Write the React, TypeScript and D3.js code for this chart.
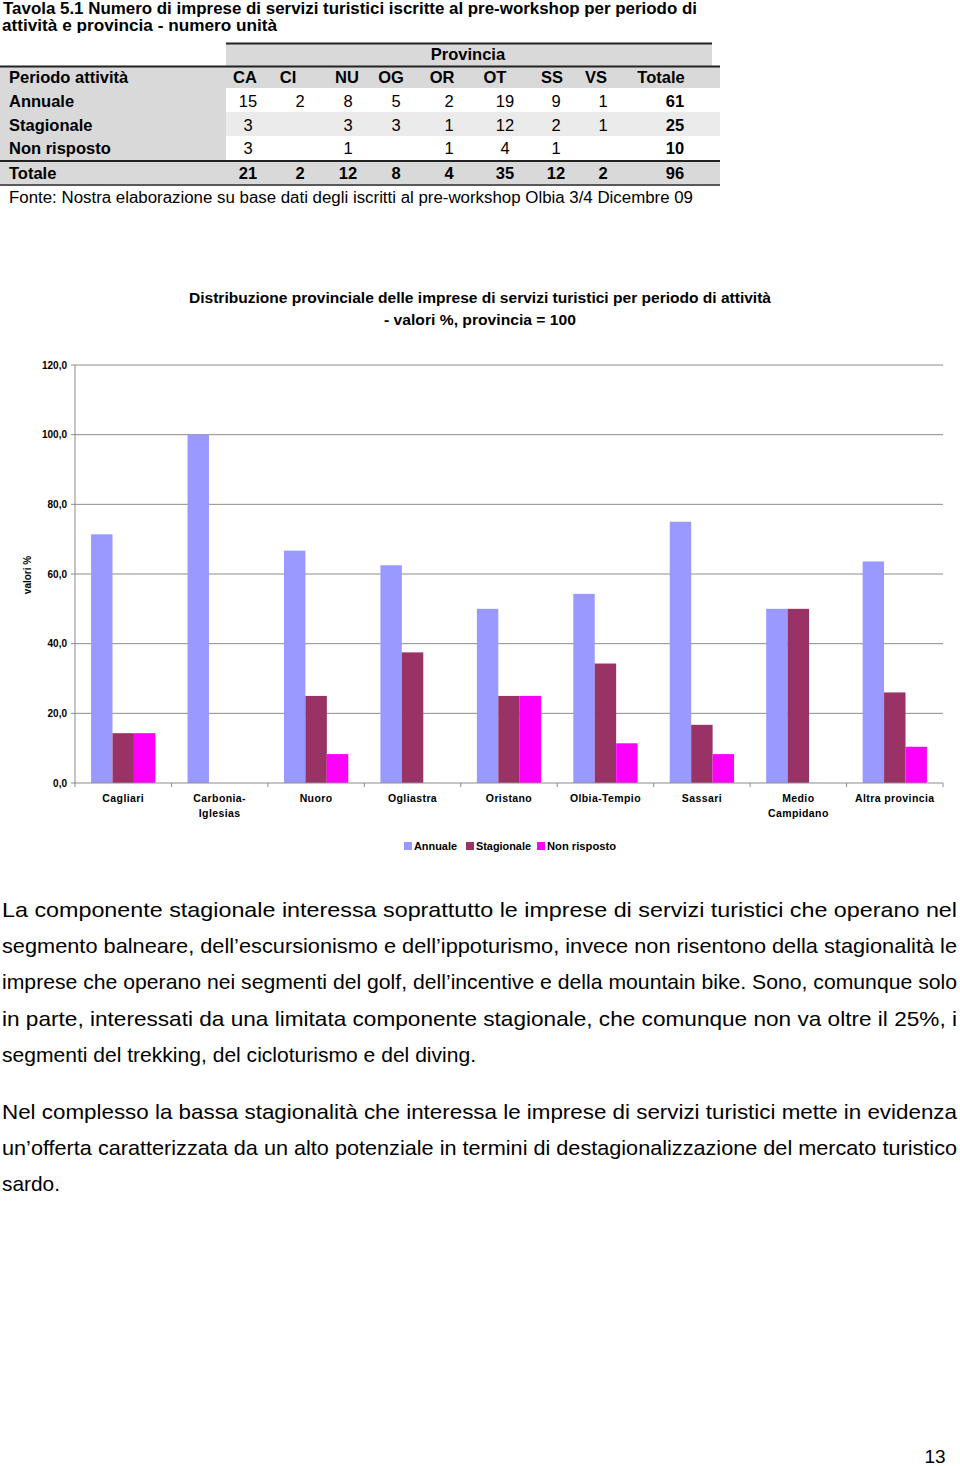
import React from "react";
import * as d3 from "d3";

// ---------- Table data ----------
const tableTitle1 = "Tavola 5.1 Numero di imprese di servizi turistici iscritte al pre-workshop per periodo di";
const tableTitle2 = "attività e provincia -  numero unità";
const provHeader = "Provincia";
const firstColHeader = "Periodo attività";
const provCodes = ["CA", "CI", "NU", "OG", "OR", "OT", "SS", "VS", "Totale"];
const rowLabels = ["Annuale", "Stagionale", "Non risposto"];
const rowAnnuale = [15, 2, 8, 5, 2, 19, 9, 1, 61];
const rowStagionale = [3, null, 3, 3, 1, 12, 2, 1, 25];
const rowNonRisposto = [3, null, 1, null, 1, 4, 1, null, 10];
const totalLabel = "Totale";
const rowTotale = [21, 2, 12, 8, 4, 35, 12, 2, 96];
const sourceNote = "Fonte: Nostra elaborazione su base dati degli iscritti al pre-workshop Olbia 3/4 Dicembre 09";

// ---------- Chart data ----------
const chartTitle1 = "Distribuzione provinciale delle imprese di servizi turistici per periodo di attività";
const chartTitle2 = "- valori %, provincia = 100";
const yAxisTitle = "valori %";
const categories = [
  ["Cagliari"],
  ["Carbonia-", "Iglesias"],
  ["Nuoro"],
  ["Ogliastra"],
  ["Oristano"],
  ["Olbia-Tempio"],
  ["Sassari"],
  ["Medio", "Campidano"],
  ["Altra provincia"],
];
const seriesNames = ["Annuale", "Stagionale", "Non risposto"];
const annuale = [71.4, 100, 66.7, 62.5, 50, 54.3, 75, 50, 63.6];
const stagionale = [14.3, 0, 25, 37.5, 25, 34.3, 16.7, 50, 26.0];
const nonRisposto = [14.3, 0, 8.3, 0, 25, 11.4, 8.3, 0, 10.4];
const yTicks = [0, 20, 40, 60, 80, 100, 120];

// ---------- Body text ----------
const paragraph1 = [
  "La componente stagionale interessa soprattutto le imprese di servizi turistici che operano nel",
  "segmento balneare, dell’escursionismo e dell’ippoturismo, invece non risentono della stagionalità le",
  "imprese che operano nei segmenti del golf, dell’incentive e della mountain bike. Sono, comunque solo",
  "in parte, interessati da una limitata componente stagionale, che comunque non va oltre il 25%, i",
  "segmenti del trekking, del cicloturismo e del diving.",
];
const paragraph2 = [
  "Nel complesso la bassa stagionalità che interessa le imprese di servizi turistici mette in evidenza",
  "un’offerta caratterizzata da un alto potenziale in termini di destagionalizzazione del mercato turistico",
  "sardo.",
];
const pageNumber = "13";

const COLORS = ["#9999FF", "#993366", "#FF00FF"];
const ARIAL = "'Liberation Sans', Arial, Helvetica, sans-serif";
const NARROW = "'Liberation Sans Narrow', 'Arial Narrow', 'Liberation Sans', Arial, sans-serif";

export default function App() {
  const W = 960;
  const H = 1466;

  // table layout
  const headerCx = [245, 288, 347, 391, 442, 495, 552, 596, 661];
  const numCx = [248, 300, 348, 396, 449, 505, 556, 603, 675];
  const dataRows = [rowAnnuale, rowStagionale, rowNonRisposto];
  const rowBase = [107, 131, 154];

  // chart layout
  const plotL = 75, plotR = 943, plotT = 365, plotB = 783;
  const x0 = d3.scaleBand<number>().domain(d3.range(categories.length)).range([plotL, plotR]).padding(0);
  const bw = x0.bandwidth();
  const gap = (bw / 4.5) * 0.75;
  const x1 = d3.scaleBand<number>().domain([0, 1, 2]).range([gap, bw - gap]).padding(0);
  const y = d3.scaleLinear().domain([0, 120]).range([plotB, plotT]);
  const series = [annuale, stagionale, nonRisposto];

  // paragraphs
  const p1Base = [917, 953, 989, 1026, 1062];
  const p1Width = [955, 955, 955, 955, 474];
  const p2Base = [1119, 1155, 1191];
  const p2Width = [955, 955, 58];

  const legendItems = [
    { sx: 404, tx: 414, tw: 43 },
    { sx: 466, tx: 476, tw: 55 },
    { sx: 537, tx: 547, tw: 69 },
  ];

  return (
    <svg width={W} height={H} style={{ position: "absolute", left: 0, top: 0, background: "#fff" }}>
      <rect x={0} y={0} width={W} height={H} fill="#fff" />

      {/* ---------- Table title ---------- */}
      <text x={3} y={13.5} fontFamily={NARROW} fontWeight="bold" fontSize={17} textLength={694} lengthAdjust="spacingAndGlyphs">{tableTitle1}</text>
      <text x={2} y={31} fontFamily={NARROW} fontWeight="bold" fontSize={17} textLength={275} lengthAdjust="spacingAndGlyphs">{tableTitle2}</text>
      <rect x={0} y={33} width={W} height={9} fill="#fff" />

      {/* ---------- Table backgrounds ---------- */}
      <rect x={226} y={44} width={486} height={22} fill="#d9d9d9" />
      <rect x={0} y={67} width={720} height={21} fill="#d9d9d9" />
      <rect x={0} y={88} width={226} height={72} fill="#d9d9d9" />
      <rect x={226} y={112} width={494} height={24} fill="#ebebeb" />
      <rect x={0} y={162} width={720} height={22} fill="#d9d9d9" />
      <line x1={226} x2={712} y1={43.5} y2={43.5} stroke="#222" strokeWidth={2} />
      <line x1={0} x2={720} y1={66.5} y2={66.5} stroke="#222" strokeWidth={2} />
      <line x1={0} x2={720} y1={161} y2={161} stroke="#222" strokeWidth={2} />
      <line x1={0} x2={720} y1={185} y2={185} stroke="#222" strokeWidth={1.5} />

      {/* ---------- Table text ---------- */}
      <g fontFamily={ARIAL} fontSize={16.5} fill="#000">
        <text x={468} y={60} textAnchor="middle" fontWeight="bold">{provHeader}</text>
        <text x={9} y={83} fontWeight="bold">{firstColHeader}</text>
        {provCodes.map((c, i) => (
          <text key={c} x={headerCx[i]} y={83} textAnchor="middle" fontWeight="bold">{c}</text>
        ))}
        {rowLabels.map((r, ri) => (
          <g key={r}>
            <text x={9} y={rowBase[ri]} fontWeight="bold">{r}</text>
            {dataRows[ri].map((v, i) =>
              v == null ? null : (
                <text key={i} x={numCx[i]} y={rowBase[ri]} textAnchor="middle" fontWeight={i === 8 ? "bold" : "normal"}>{v}</text>
              )
            )}
          </g>
        ))}
        <text x={9} y={179} fontWeight="bold">{totalLabel}</text>
        {rowTotale.map((v, i) => (
          <text key={i} x={numCx[i]} y={179} textAnchor="middle" fontWeight="bold">{v}</text>
        ))}
        <text x={9} y={203} fontSize={16} textLength={684} lengthAdjust="spacingAndGlyphs">{sourceNote}</text>
      </g>

      {/* ---------- Chart ---------- */}
      <g fontFamily={ARIAL} fill="#000">
        <text x={480} y={303} textAnchor="middle" fontWeight="bold" fontSize={14} textLength={582} lengthAdjust="spacingAndGlyphs">{chartTitle1}</text>
        <text x={480} y={325} textAnchor="middle" fontWeight="bold" fontSize={14} textLength={192} lengthAdjust="spacingAndGlyphs">{chartTitle2}</text>

        {/* gridlines */}
        {yTicks.filter((t) => t > 0).map((t) => (
          <line key={t} x1={plotL} x2={plotR} y1={y(t)} y2={y(t)} stroke="#8c8c8c" strokeWidth={1} />
        ))}
        {/* y axis */}
        <line x1={plotL} x2={plotL} y1={plotT} y2={plotB} stroke="#8c8c8c" strokeWidth={1} />
        {yTicks.map((t) => (
          <g key={"yt" + t}>
            <line x1={plotL - 4} x2={plotL} y1={y(t)} y2={y(t)} stroke="#8c8c8c" />
            <text x={67} y={y(t) + 3.5} textAnchor="end" fontSize={10} fontWeight="bold">{d3.format(".1f")(t).replace(".", ",")}</text>
          </g>
        ))}
        <text transform={`translate(31,575) rotate(-90)`} textAnchor="middle" fontSize={10} fontWeight="bold">{yAxisTitle}</text>

        {/* bars */}
        {categories.map((_, ci) => (
          <g key={"c" + ci} transform={`translate(${x0(ci)},0)`}>
            {series.map((s, si) =>
              s[ci] > 0 ? (
                <rect key={si} x={x1(si)} y={y(s[ci])} width={x1.bandwidth()} height={y(0) - y(s[ci])} fill={COLORS[si]} />
              ) : null
            )}
          </g>
        ))}

        {/* x axis */}
        <line x1={plotL} x2={plotR} y1={plotB} y2={plotB} stroke="#8c8c8c" strokeWidth={1} />
        {d3.range(categories.length + 1).map((i) => (
          <line key={"xt" + i} x1={plotL + i * bw} x2={plotL + i * bw} y1={plotB} y2={plotB + 4} stroke="#8c8c8c" />
        ))}
        {categories.map((lines, ci) => (
          <text key={"xl" + ci} x={(x0(ci) as number) + bw / 2} y={802} textAnchor="middle" fontSize={10.5} fontWeight="bold" letterSpacing={0.4}>
            {lines.map((l, li) => (
              <tspan key={li} x={(x0(ci) as number) + bw / 2} dy={li === 0 ? 0 : 15}>{l}</tspan>
            ))}
          </text>
        ))}

        {/* legend */}
        {seriesNames.map((n, i) => (
          <g key={n}>
            <rect x={legendItems[i].sx} y={842} width={8} height={8} fill={COLORS[i]} />
            <text x={legendItems[i].tx} y={850} fontSize={10} fontWeight="bold" textLength={legendItems[i].tw} lengthAdjust="spacingAndGlyphs">{n}</text>
          </g>
        ))}
      </g>

      {/* ---------- Body paragraphs ---------- */}
      <g fontFamily={NARROW} fontSize={21} fill="#000">
        {paragraph1.map((l, i) => (
          <text key={"p1" + i} x={2} y={p1Base[i]} textLength={p1Width[i]} lengthAdjust="spacingAndGlyphs">{l}</text>
        ))}
        {paragraph2.map((l, i) => (
          <text key={"p2" + i} x={2} y={p2Base[i]} textLength={p2Width[i]} lengthAdjust="spacingAndGlyphs">{l}</text>
        ))}
      </g>

      <text x={935} y={1463} textAnchor="middle" fontFamily={ARIAL} fontSize={19}>{pageNumber}</text>
    </svg>
  );
}
